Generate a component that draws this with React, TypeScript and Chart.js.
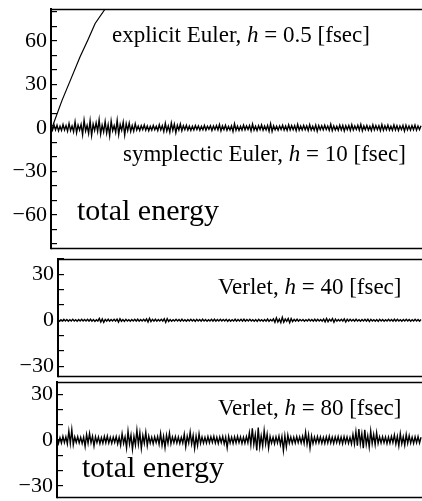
import React, { useEffect, useRef } from 'react';
import { Chart, registerables } from 'chart.js';
Chart.register(...registerables);

// time step between sampled points (arbitrary time units, 0..370)
const STEP = 1.5;

// explicit Euler, h = 0.5 fsec (diverging)
const explicitTime = [0, 2, 11, 20, 29, 37, 44, 54, 62];
const explicitEnergy = [0, 2, 19, 34, 49, 61, 72, 82, 90];

// symplectic Euler, h = 10 fsec
const symplecticEnergy = [
  1.3, -1.6, 2.1, -1.4, 1.8, -2.0, 1.2, -1.7, 2.3, -1.5,
  1.6, -2.2, 3.1, -1.8, 1.4, -2.6, 4.2, -3.3, 1.9, -1.5,
  2.4, -4.6, 5.3, -2.1, 1.7, -3.8, 4.9, -5.1, 2.6, -1.8,
  3.5, -2.4, 5.6, -4.2, 1.9, -2.7, 4.4, -3.6, 2.2, -5.4,
  4.7, -2.0, 1.6, -3.1, 5.2, -4.5, 2.3, -1.7, 3.9, -4.8,
  2.8, -1.9, 3.3, -2.5, 1.6, -2.2, 2.9, -1.5, 1.3, -1.8,
  1.5, -1.2, 2.0, -1.6, 1.4, -1.9, 1.1, -1.5, 1.7, -1.3,
  1.2, -1.8, 2.2, -1.4, 1.6, -2.5, 3.2, -2.1, 1.4, -3.0,
  3.4, -1.7, 2.6, -3.3, 1.8, -1.4, 2.7, -1.9, 1.5, -1.2,
  1.8, -1.5, 1.3, -1.7, 1.2, -1.4, 1.6, -1.1, 1.4, -1.6,
  1.1, -1.3, 1.7, -1.5, 1.2, -1.0, 1.5, -1.8, 1.3, -1.2,
  1.6, -1.4, 2.3, -2.0, 1.4, -1.2, 1.8, -1.6, 1.1, -1.4,
  1.5, -2.4, 2.8, -1.6, 1.3, -1.7, 1.2, -1.5, 1.9, -1.3,
  1.4, -1.1, 1.6, -2.1, 2.6, -1.5, 1.2, -1.8, 1.5, -1.2,
  2.0, -1.6, 1.3, -1.4, 1.7, -2.2, 2.9, -2.4, 1.5, -1.3,
  1.2, -1.6, 1.4, -1.1, 1.8, -1.5, 1.3, -1.7, 2.1, -1.4,
  1.6, -1.2, 1.5, -1.9, 2.4, -1.6, 1.3, -1.4, 1.7, -1.2,
  1.4, -1.8, 2.2, -1.5, 1.2, -1.6, 1.9, -2.3, 1.6, -1.3,
  1.5, -1.4, 1.8, -1.2, 1.3, -1.7, 2.5, -1.9, 1.4, -1.5,
  1.2, -1.6, 1.9, -1.4, 1.7, -2.1, 1.5, -1.3, 1.6, -1.8,
  2.2, -1.5, 1.3, -1.2, 1.8, -1.6, 2.4, -2.0, 1.4, -1.3,
  1.7, -1.5, 1.2, -1.8, 2.1, -1.4, 1.6, -1.2, 1.5, -1.9,
  2.3, -1.7, 1.4, -1.3, 1.9, -1.5, 1.2, -1.6, 2.0, -1.4,
  1.5, -1.8, 1.3, -1.2, 1.7, -2.2, 1.8, -1.4, 1.3, -1.5,
  1.6, -1.3, 1.9, -1.6, 1.4, -1.2, 1.5,
];

// Verlet, h = 40 fsec
const verlet40Energy = [
  0.5, -0.6, 0.4, -0.5, 0.6, -0.4, 0.5, -0.6, 0.4, -0.5,
  0.6, -0.5, 0.4, -0.6, 0.5, -0.4, 0.6, -0.5, 0.5, -0.4,
  0.6, -0.5, 0.7, -0.6, 0.5, -0.7, 0.4, -0.5, 1.2, -1.1,
  0.9, -1.3, 0.6, -0.5, 0.7, -0.6, 0.5, -0.4, 0.6, -0.5,
  0.8, -1.2, 1.0, -0.6, 0.5, -0.7, 0.6, -0.5, 0.4, -0.6,
  0.5, -0.4, 0.6, -0.5, 0.7, -0.6, 0.5, -0.4, 0.6, -0.5,
  0.9, -1.1, 1.3, -0.8, 0.6, -0.5, 0.7, -0.6, 0.5, -0.4,
  0.6, -0.5, 1.0, -1.4, 1.1, -0.7, 0.5, -0.6, 0.4, -0.5,
  0.6, -0.4, 0.5, -0.6, 0.7, -0.5, 0.4, -0.6, 0.5, -0.4,
  0.6, -0.5, 0.5, -0.7, 0.6, -0.4, 0.5, -0.6, 0.7, -0.5,
  0.5, -0.6, 0.4, -0.5, 0.6, -0.5, 0.7, -0.6, 0.5, -0.4,
  0.6, -0.5, 0.5, -0.4, 0.6, -0.7, 0.5, -0.6, 0.4, -0.5,
  0.7, -0.6, 0.5, -0.4, 0.6, -0.5, 0.7, -0.6, 0.5, -0.4,
  0.6, -0.5, 0.4, -0.6, 0.5, -0.7, 0.6, -0.5, 0.4, -0.6,
  0.5, -0.6, 0.8, -0.7, 0.5, -0.4, 0.9, -1.3, 1.6, -1.1,
  0.8, -1.5, 2.0, -1.3, 0.9, -0.7, 1.2, -1.6, 1.1, -0.8,
  0.6, -0.5, 0.7, -0.6, 0.5, -0.4, 0.5, -0.6, 0.4, -0.5,
  0.6, -0.4, 0.5, -0.6, 0.7, -0.5, 0.6, -0.4, 0.5, -0.6,
  0.8, -1.0, 1.2, -0.9, 0.7, -0.5, 1.1, -1.3, 0.8, -0.6,
  0.5, -0.4, 0.6, -0.5, 0.9, -1.1, 0.7, -0.5, 0.6, -0.4,
  0.5, -0.6, 0.7, -0.5, 0.4, -0.6, 0.5, -0.4, 0.6, -0.5,
  0.7, -0.8, 0.6, -0.5, 0.4, -0.6, 0.5, -0.7, 0.6, -0.4,
  0.5, -0.6, 0.4, -0.5, 0.6, -0.4, 0.5, -0.6, 0.7, -0.5,
  0.6, -0.5, 0.4, -0.6, 0.5, -0.4, 0.6, -0.5, 0.5, -0.6,
  0.4, -0.5, 0.6, -0.4, 0.5, -0.6, 0.5,
];

// Verlet, h = 80 fsec
const verlet80Energy = [
  1.8, -2.2, 1.5, -2.0, 2.4, -1.7, 2.1, -2.5, 5.9, -2.3,
  6.8, -3.1, 2.0, -1.6, 2.2, -1.9, 1.7, -2.3, 1.9, -4.2,
  3.6, -2.1, 4.4, -1.8, 2.5, -3.9, 2.2, -1.7, 2.0, -2.4,
  1.6, -2.1, 2.3, -1.8, 2.6, -2.0, 1.7, -2.2, 1.9, -1.6,
  2.2, -2.5, 1.8, -3.4, 4.1, -2.3, 2.0, -5.2, 5.8, -2.6,
  3.2, -6.1, 2.4, -3.3, 6.5, -2.8, 4.7, -5.4, 3.0, -2.2,
  5.1, -3.7, 2.6, -2.0, 1.8, -2.4, 2.1, -1.7, 2.3, -2.8,
  4.3, -3.5, 2.4, -5.0, 3.1, -2.2, 4.6, -2.5, 2.0, -1.8,
  2.2, -2.0, 1.9, -2.3, 1.7, -2.1, 3.8, -4.4, 2.5, -2.0,
  5.2, -2.6, 3.0, -5.5, 2.4, -3.6, 4.1, -2.2, 1.9, -2.1,
  1.7, -2.0, 2.2, -1.8, 2.1, -1.6, 2.4, -2.0, 1.8, -2.3,
  2.0, -1.7, 2.3, -2.5, 1.9, -5.1, 2.4, -2.0, 1.8, -2.2,
  2.1, -1.9, 2.4, -1.7, 2.0, -2.3, 1.8, -2.1, 2.2, -1.8,
  4.8, -3.2, 7.6, -2.9, 3.5, -6.8, 8.1, -4.4, 2.7, -3.9,
  6.2, -2.5, 3.8, -5.2, 2.3, -2.0, 1.8, -2.4, 2.1, -1.9,
  2.5, -3.1, 2.2, -6.9, 2.8, -4.5, 3.2, -2.1, 1.9, -2.2,
  1.8, -2.0, 2.3, -1.7, 2.1, -1.9, 2.4, -2.2, 5.1, -2.8,
  3.4, -5.3, 2.6, -2.4, 1.9, -2.0, 2.2, -1.8, 2.0, -2.1,
  1.7, -2.3, 2.1, -1.9, 2.4, -2.0, 1.8, -2.2, 2.0, -1.7,
  2.3, -2.1, 1.9, -2.4, 2.2, -1.8, 2.0, -2.2, 1.7, -2.5,
  3.6, -2.7, 5.4, -3.8, 7.2, -2.6, 4.1, -5.3, 6.6, -3.0,
  2.8, -4.6, 5.9, -2.4, 3.7, -3.1, 4.8, -2.2, 2.1, -1.9,
  2.2, -1.8, 2.0, -2.3, 1.9, -2.1, 2.4, -1.7, 3.3, -2.6,
  2.4, -3.9, 4.2, -2.5, 2.1, -3.4, 3.6, -2.2, 2.8, -2.0,
  1.9, -2.2, 2.1, -1.8, 2.3, -2.0, 1.8,
];

// labelled tick values per panel
const topTickLabels = [-60, -30, 0, 30, 60];
const midTickLabels = [-30, 0, 30];
const botTickLabels = [-30, 0, 30];

const FONT = "'Liberation Serif', 'Times New Roman', serif";

type Part = { t: string; it?: boolean };
type Note = { x: number; y: number; size: number; parts: Part[] };

const fmt = (v: number) => (v < 0 ? '\u2212' + Math.abs(v) : String(v));

const series = (vals: number[]) => vals.map((v, i) => ({ x: i * STEP, y: v }));

const framePlugin = {
  id: 'frame',
  afterDatasetsDraw(chart: any) {
    const { ctx, chartArea } = chart;
    ctx.save();
    ctx.strokeStyle = '#000';
    ctx.lineWidth = 1.5;
    ctx.beginPath();
    ctx.moveTo(chartArea.left, chartArea.top + 0.5);
    ctx.lineTo(chartArea.right, chartArea.top + 0.5);
    ctx.moveTo(chartArea.left, chartArea.bottom - 0.5);
    ctx.lineTo(chartArea.right, chartArea.bottom - 0.5);
    ctx.stroke();
    ctx.restore();
  },
};

const makeTextPlugin = (notes: Note[]) => ({
  id: 'notes',
  afterDraw(chart: any) {
    const { ctx } = chart;
    ctx.save();
    ctx.fillStyle = '#000';
    ctx.textBaseline = 'alphabetic';
    ctx.textAlign = 'left';
    for (const n of notes) {
      let x = n.x;
      for (const p of n.parts) {
        ctx.font = `${p.it ? 'italic ' : ''}${n.size}px ${FONT}`;
        ctx.fillText(p.t, x, n.y);
        x += ctx.measureText(p.t).width;
      }
    }
    ctx.restore();
  },
});

type PanelProps = {
  top: number;
  height: number;
  padTop: number;
  padBottom: number;
  axisWidth: number;
  yMin: number;
  yMax: number;
  datasets: any[];
  majors: number[];
  notes: Note[];
};

function Panel(props: PanelProps) {
  const ref = useRef<HTMLCanvasElement>(null);
  useEffect(() => {
    const { padTop, padBottom, axisWidth, yMin, yMax, datasets, majors, notes } = props;
    const chart = new Chart(ref.current as HTMLCanvasElement, {
      type: 'line',
      data: { datasets },
      options: {
        animation: false,
        responsive: false,
        devicePixelRatio: 1,
        layout: { padding: { top: padTop, bottom: padBottom, left: 0, right: 0 } },
        plugins: { legend: { display: false }, tooltip: { enabled: false } },
        elements: { point: { radius: 0 }, line: { borderWidth: 1.4, tension: 0 } },
        scales: {
          x: { type: 'linear', min: 0, max: 370, display: false },
          y: {
            type: 'linear',
            min: yMin,
            max: yMax,
            afterFit: (s: any) => {
              s.width = axisWidth;
              s.paddingTop = 0;
              s.paddingBottom = 0;
            },
            afterBuildTicks: (s: any) => {
              s.ticks = s.ticks.filter((t: any) => Math.abs(t.value % 10) < 1e-6);
            },
            ticks: {
              stepSize: 10,
              includeBounds: false,
              autoSkip: false,
              padding: 10,
              color: '#000',
              font: { family: FONT, size: 22 },
              callback: (v: any) => (majors.includes(Number(v)) ? fmt(Number(v)) : ''),
            },
            grid: {
              drawOnChartArea: false,
              drawTicks: true,
              tickLength: -6,
              color: '#000',
              lineWidth: 1.2,
            },
            border: { display: true, color: '#000', width: 2 },
          },
        },
      } as any,
      plugins: [framePlugin, makeTextPlugin(notes)],
    });
    return () => chart.destroy();
  }, []);
  return (
    <canvas
      ref={ref}
      width={422}
      height={props.height}
      style={{ position: 'absolute', left: 0, top: props.top, width: 422, height: props.height }}
    />
  );
}

const noiseStyle = { borderColor: '#000', backgroundColor: '#000', fill: false, borderWidth: 1.4 };
const thinStyle = { borderColor: '#000', backgroundColor: '#000', fill: false, borderWidth: 1.2 };

export default function App() {
  const topSets = [
    { ...noiseStyle, data: series(symplecticEnergy) },
    { ...thinStyle, data: explicitTime.map((t, i) => ({ x: t, y: explicitEnergy[i] })) },
  ];
  const midSets = [{ ...noiseStyle, data: series(verlet40Energy) }];
  const botSets = [{ ...noiseStyle, data: series(verlet80Energy) }];

  return (
    <div style={{ position: 'absolute', left: 0, top: 0, width: 422, height: 501, background: '#fff' }}>
      <Panel
        top={0}
        height={252}
        padTop={9}
        padBottom={3}
        axisWidth={51}
        yMin={-83.5}
        yMax={82}
        datasets={topSets}
        majors={topTickLabels}
        notes={[
          { x: 112, y: 42, size: 23, parts: [{ t: 'explicit Euler, ' }, { t: 'h', it: true }, { t: ' = 0.5 [fsec]' }] },
          { x: 123, y: 161, size: 23, parts: [{ t: 'symplectic Euler, ' }, { t: 'h', it: true }, { t: ' = 10 [fsec]' }] },
          { x: 77, y: 220, size: 30, parts: [{ t: 'total energy' }] },
        ]}
      />
      <Panel
        top={252}
        height={128}
        padTop={7}
        padBottom={3}
        axisWidth={58}
        yMin={-37}
        yMax={40}
        datasets={midSets}
        majors={midTickLabels}
        notes={[
          { x: 218, y: 294 - 252, size: 23, parts: [{ t: 'Verlet, ' }, { t: 'h', it: true }, { t: ' = 40 [fsec]' }] },
        ]}
      />
      <Panel
        top={380}
        height={121}
        padTop={2}
        padBottom={3}
        axisWidth={57}
        yMin={-38}
        yMax={38}
        datasets={botSets}
        majors={botTickLabels}
        notes={[
          { x: 218, y: 415 - 380, size: 23, parts: [{ t: 'Verlet, ' }, { t: 'h', it: true }, { t: ' = 80 [fsec]' }] },
          { x: 82, y: 477 - 380, size: 30, parts: [{ t: 'total energy' }] },
        ]}
      />
    </div>
  );
}
